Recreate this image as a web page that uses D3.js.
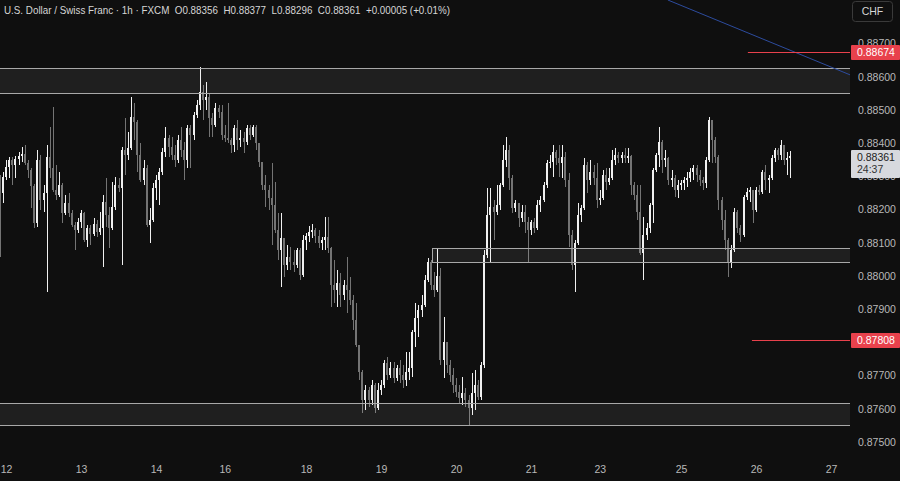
<!DOCTYPE html>
<html>
<head>
<meta charset="utf-8">
<script src="https://cdn.jsdelivr.net/npm/d3@7/dist/d3.min.js"></script>
<style>
html,body{margin:0;padding:0;background:#0f0f0f;overflow:hidden;}
svg{display:block;font-family:"Liberation Sans",Arial,sans-serif;}
</style>
</head>
<body>
<svg id="chart" width="900" height="481"></svg>
<script>
// ---------------- DATA (USD/CHF, 1h, FXCM) ----------------
const symbolTitle = "U.S. Dollar / Swiss Franc · 1h · FXCM";
const quoteCurrency = "CHF";
const countdown = "24:37";

const opens = [
0.88274,0.88250,0.88298,0.88328,0.88349,0.88334,0.88352,0.88361,0.88367,0.88340,
0.88319,0.88271,0.88159,0.88349,0.88229,0.88250,0.88358,0.88325,0.88259,0.88244,
0.88274,0.88189,0.88220,0.88189,0.88153,0.88138,0.88162,0.88189,0.88108,0.88144,
0.88126,0.88156,0.88132,0.88144,0.88223,0.88183,0.88144,0.88208,0.88274,0.88265,
0.88379,0.88364,0.88385,0.88479,0.88464,0.88364,0.88289,0.88325,0.88153,0.88168,
0.88265,0.88289,0.88313,0.88373,0.88415,0.88388,0.88364,0.88349,0.88409,0.88379,
0.88349,0.88445,0.88424,0.88485,0.88515,0.88554,0.88530,0.88539,0.88476,0.88454,
0.88506,0.88494,0.88424,0.88415,0.88409,0.88394,0.88445,0.88409,0.88415,0.88403,
0.88445,0.88424,0.88448,0.88400,0.88343,0.88274,0.88259,0.88235,0.88214,0.88138,
0.88078,0.88114,0.88033,0.88057,0.88042,0.88033,0.88078,0.88003,0.88108,0.88120,
0.88132,0.88138,0.88120,0.88099,0.88108,0.88117,0.88084,0.87973,0.87958,0.87979,
0.87942,0.87973,0.87958,0.87927,0.87867,0.87792,0.87711,0.87626,0.87656,0.87626,
0.87671,0.87602,0.87656,0.87671,0.87738,0.87701,0.87723,0.87692,0.87723,0.87701,
0.87686,0.87711,0.87723,0.87831,0.87873,0.87897,0.87912,0.87988,0.88042,0.87973,
0.87958,0.88000,0.87747,0.87801,0.87732,0.87701,0.87671,0.87650,0.87632,0.87647,
0.87626,0.87602,0.87647,0.87671,0.87635,0.87732,0.88063,0.88183,0.88208,0.88192,
0.88214,0.88274,0.88349,0.88379,0.88295,0.88205,0.88220,0.88174,0.88192,0.88162,
0.88138,0.88162,0.88144,0.88214,0.88229,0.88274,0.88340,0.88343,0.88373,0.88355,
0.88340,0.88358,0.88289,0.88123,0.88033,0.88099,0.88183,0.88205,0.88334,0.88289,
0.88313,0.88295,0.88229,0.88235,0.88304,0.88283,0.88295,0.88349,0.88364,0.88355,
0.88364,0.88355,0.88361,0.88274,0.88244,0.88192,0.88069,0.88123,0.88144,0.88214,
0.88319,0.88364,0.88403,0.88349,0.88355,0.88289,0.88295,0.88259,0.88274,0.88280,
0.88289,0.88295,0.88313,0.88325,0.88304,0.88289,0.88280,0.88349,0.88470,0.88409,
0.88358,0.88229,0.88168,0.88108,0.88042,0.88078,0.88192,0.88144,0.88123,0.88238,
0.88253,0.88259,0.88198,0.88259,0.88253,0.88313,0.88289,0.88295,0.88355,0.88379,
0.88364,0.88394,0.88349,0.88356
];
const highs = [
0.88304,0.88313,0.88349,0.88358,0.88358,0.88361,0.88373,0.88388,0.88394,0.88349,
0.88325,0.88277,0.88379,0.88364,0.88274,0.88394,0.88448,0.88509,0.88334,0.88313,
0.88280,0.88244,0.88250,0.88198,0.88162,0.88174,0.88198,0.88192,0.88153,0.88153,
0.88174,0.88168,0.88192,0.88244,0.88295,0.88208,0.88283,0.88298,0.88295,0.88388,
0.88476,0.88433,0.88539,0.88521,0.88470,0.88400,0.88349,0.88334,0.88205,0.88280,
0.88304,0.88325,0.88385,0.88448,0.88424,0.88418,0.88394,0.88424,0.88448,0.88403,
0.88454,0.88454,0.88494,0.88530,0.88629,0.88575,0.88584,0.88551,0.88491,0.88521,
0.88515,0.88515,0.88454,0.88521,0.88415,0.88454,0.88470,0.88439,0.88433,0.88454,
0.88454,0.88454,0.88454,0.88400,0.88343,0.88304,0.88274,0.88340,0.88283,0.88189,
0.88189,0.88114,0.88093,0.88087,0.88078,0.88084,0.88084,0.88123,0.88129,0.88150,
0.88156,0.88144,0.88138,0.88117,0.88177,0.88177,0.88087,0.88048,0.88018,0.88009,
0.87988,0.88057,0.87997,0.87942,0.87918,0.87792,0.87717,0.87671,0.87665,0.87686,
0.87677,0.87677,0.87686,0.87747,0.87756,0.87741,0.87741,0.87732,0.87747,0.87732,
0.87771,0.87771,0.87837,0.87918,0.87912,0.87942,0.88003,0.88054,0.88048,0.88012,
0.88084,0.88024,0.87876,0.87801,0.87747,0.87723,0.87692,0.87671,0.87695,0.87662,
0.87641,0.87708,0.87717,0.87686,0.87741,0.88078,0.88265,0.88265,0.88229,0.88274,
0.88280,0.88394,0.88418,0.88394,0.88304,0.88229,0.88220,0.88214,0.88214,0.88177,
0.88168,0.88174,0.88229,0.88241,0.88283,0.88349,0.88364,0.88394,0.88379,0.88394,
0.88394,0.88373,0.88310,0.88138,0.88108,0.88220,0.88214,0.88355,0.88343,0.88349,
0.88334,0.88340,0.88259,0.88319,0.88325,0.88325,0.88379,0.88385,0.88373,0.88373,
0.88385,0.88385,0.88364,0.88283,0.88274,0.88274,0.88177,0.88159,0.88220,0.88325,
0.88370,0.88448,0.88409,0.88379,0.88358,0.88319,0.88304,0.88289,0.88289,0.88298,
0.88313,0.88325,0.88334,0.88334,0.88319,0.88298,0.88358,0.88479,0.88470,0.88418,
0.88364,0.88238,0.88198,0.88114,0.88093,0.88205,0.88198,0.88153,0.88244,0.88265,
0.88268,0.88259,0.88268,0.88274,0.88319,0.88334,0.88304,0.88364,0.88385,0.88385,
0.88409,0.88394,0.88373,0.88377
];
const lows = [
0.88057,0.88220,0.88289,0.88295,0.88274,0.88295,0.88334,0.88343,0.88334,0.88295,
0.88205,0.88144,0.88147,0.88198,0.88192,0.87951,0.88295,0.88253,0.88229,0.88238,
0.88159,0.88183,0.88177,0.88147,0.88078,0.88129,0.88144,0.88102,0.88087,0.88093,
0.88120,0.88117,0.88123,0.88027,0.88147,0.88084,0.88138,0.88198,0.88253,0.88033,
0.88304,0.88349,0.88379,0.88409,0.88313,0.88283,0.88274,0.88147,0.88099,0.88162,
0.88229,0.88214,0.88304,0.88358,0.88358,0.88349,0.88328,0.88340,0.88358,0.88289,
0.88325,0.88325,0.88409,0.88476,0.88500,0.88470,0.88500,0.88418,0.88418,0.88448,
0.88476,0.88409,0.88403,0.88400,0.88370,0.88373,0.88379,0.88388,0.88370,0.88394,
0.88409,0.88418,0.88379,0.88328,0.88259,0.88208,0.88198,0.88093,0.88129,0.88048,
0.87967,0.87997,0.88018,0.88018,0.88012,0.88024,0.87988,0.87997,0.88078,0.88102,
0.88114,0.88099,0.88084,0.88078,0.88078,0.88069,0.87906,0.87918,0.87906,0.87906,
0.87927,0.87888,0.87912,0.87837,0.87786,0.87686,0.87587,0.87596,0.87605,0.87611,
0.87587,0.87596,0.87641,0.87662,0.87686,0.87692,0.87677,0.87683,0.87677,0.87662,
0.87668,0.87686,0.87695,0.87786,0.87816,0.87876,0.87906,0.87982,0.87958,0.87936,
0.87951,0.87732,0.87692,0.87708,0.87680,0.87647,0.87635,0.87617,0.87611,0.87605,
0.87551,0.87581,0.87596,0.87626,0.87626,0.87723,0.88054,0.88042,0.88108,0.88183,
0.88198,0.88268,0.88328,0.88259,0.88189,0.88192,0.88147,0.88162,0.88129,0.88042,
0.88123,0.88129,0.88138,0.88192,0.88223,0.88265,0.88325,0.88298,0.88334,0.88298,
0.88295,0.88268,0.88087,0.88018,0.87951,0.88093,0.88162,0.88198,0.88250,0.88274,
0.88274,0.88205,0.88214,0.88229,0.88259,0.88274,0.88289,0.88334,0.88340,0.88340,
0.88340,0.88340,0.88244,0.88229,0.88168,0.88063,0.87988,0.88108,0.88129,0.88159,
0.88313,0.88328,0.88310,0.88328,0.88274,0.88268,0.88238,0.88235,0.88259,0.88259,
0.88268,0.88283,0.88289,0.88283,0.88271,0.88259,0.88265,0.88343,0.88340,0.88340,
0.88198,0.88138,0.88078,0.87997,0.88024,0.88072,0.88129,0.88102,0.88117,0.88229,
0.88223,0.88159,0.88192,0.88244,0.88247,0.88259,0.88250,0.88289,0.88343,0.88349,
0.88349,0.88334,0.88304,0.88296
];
const closes = [
0.88250,0.88298,0.88328,0.88349,0.88334,0.88352,0.88361,0.88367,0.88340,0.88319,
0.88271,0.88159,0.88349,0.88229,0.88250,0.88358,0.88325,0.88259,0.88244,0.88274,
0.88189,0.88220,0.88189,0.88153,0.88138,0.88162,0.88189,0.88108,0.88144,0.88126,
0.88156,0.88132,0.88144,0.88223,0.88183,0.88144,0.88208,0.88274,0.88265,0.88379,
0.88364,0.88385,0.88479,0.88464,0.88364,0.88289,0.88325,0.88153,0.88168,0.88265,
0.88289,0.88313,0.88373,0.88415,0.88388,0.88364,0.88349,0.88409,0.88379,0.88349,
0.88445,0.88424,0.88485,0.88515,0.88554,0.88530,0.88539,0.88476,0.88454,0.88506,
0.88494,0.88424,0.88415,0.88409,0.88394,0.88445,0.88409,0.88415,0.88403,0.88445,
0.88424,0.88448,0.88400,0.88343,0.88274,0.88259,0.88235,0.88214,0.88138,0.88078,
0.88114,0.88033,0.88057,0.88042,0.88033,0.88078,0.88003,0.88108,0.88120,0.88132,
0.88138,0.88120,0.88099,0.88108,0.88117,0.88084,0.87973,0.87958,0.87979,0.87942,
0.87973,0.87958,0.87927,0.87867,0.87792,0.87711,0.87626,0.87656,0.87626,0.87671,
0.87602,0.87656,0.87671,0.87738,0.87701,0.87723,0.87692,0.87723,0.87701,0.87686,
0.87711,0.87723,0.87831,0.87873,0.87897,0.87912,0.87988,0.88042,0.87973,0.87958,
0.88000,0.87747,0.87801,0.87732,0.87701,0.87671,0.87650,0.87632,0.87647,0.87626,
0.87602,0.87647,0.87671,0.87635,0.87732,0.88063,0.88183,0.88208,0.88192,0.88214,
0.88274,0.88349,0.88379,0.88295,0.88205,0.88220,0.88174,0.88192,0.88162,0.88138,
0.88162,0.88144,0.88214,0.88229,0.88274,0.88340,0.88343,0.88373,0.88355,0.88340,
0.88358,0.88289,0.88123,0.88033,0.88099,0.88183,0.88205,0.88334,0.88289,0.88313,
0.88295,0.88229,0.88235,0.88304,0.88283,0.88295,0.88349,0.88364,0.88355,0.88364,
0.88355,0.88361,0.88274,0.88244,0.88192,0.88069,0.88123,0.88144,0.88214,0.88319,
0.88364,0.88403,0.88349,0.88355,0.88289,0.88295,0.88259,0.88274,0.88280,0.88289,
0.88295,0.88313,0.88325,0.88304,0.88289,0.88280,0.88349,0.88470,0.88409,0.88358,
0.88229,0.88168,0.88108,0.88042,0.88078,0.88192,0.88144,0.88123,0.88238,0.88253,
0.88259,0.88198,0.88259,0.88253,0.88313,0.88289,0.88295,0.88355,0.88379,0.88364,
0.88394,0.88349,0.88356,0.88361
];

// time axis: candle index at which each day label sits
const dayTickIndex = [2, 26, 50, 72, 98, 122, 146, 170, 192, 218, 242, 266];
const dayTickLabel = ["12","13","14","16","18","19","20","21","23","25","26","27"];

// price axis ticks (0.87800 is hidden behind the alert label in the original)
const priceTicks = [0.887,0.886,0.885,0.884,0.883,0.882,0.881,0.880,0.879,0.877,0.876,0.875];

// drawn support / resistance zones (price bounds, start candle index)
const zoneHigh  = [0.88626, 0.88084, 0.87617];
const zoneLow   = [0.88551, 0.88042, 0.87551];
const zoneStart = [-10, 138.3, -10];

// horizontal alert levels (price, start candle index)
const alertPrice = [0.88674, 0.87808];
const alertStart = [239.4, 240.7];

// trend line (two anchor points: candle index, price)
const trendIndex = [213.8, 280];
const trendPrice = [0.88831, 0.88575];

// ---------------- CHART ----------------
const W = 900, H = 481, plotRight = 850, plotBottom = 455;
const upColor = "#f0f0f0", downColor = "#747474";
const axisText = "#b9b9b9";

const x = d3.scaleLinear().domain([0.08, 272.08]).range([0, plotRight]);
const y = d3.scaleLinear().domain([0.875, 0.887]).range([441.9, 43.5]);

const svg = d3.select("#chart");
svg.append("rect").attr("width", W).attr("height", H).attr("fill", "#0f0f0f");

svg.append("defs").append("clipPath").attr("id", "plot")
  .append("rect").attr("x", 0).attr("y", 0).attr("width", plotRight).attr("height", plotBottom);

const plot = svg.append("g").attr("clip-path", "url(#plot)");

// candles
const candles = closes.map((c, i) => ({ i, o: opens[i], h: highs[i], l: lows[i], c, up: c >= opens[i] }));
const cg = plot.append("g").attr("shape-rendering", "crispEdges");
cg.selectAll("rect.wick").data(candles).join("rect")
  .attr("class", "wick")
  .attr("x", d => Math.round(x(d.i)))
  .attr("y", d => Math.round(y(d.h)))
  .attr("width", 1)
  .attr("height", d => Math.max(1, Math.round(y(d.l)) - Math.round(y(d.h))))
  .attr("fill", d => d.up ? upColor : downColor);
cg.selectAll("rect.body").data(candles).join("rect")
  .attr("class", "body")
  .attr("x", d => Math.round(x(d.i)) - 1)
  .attr("y", d => Math.round(y(Math.max(d.o, d.c))))
  .attr("width", 2)
  .attr("height", d => Math.max(1, Math.round(y(Math.min(d.o, d.c))) - Math.round(y(Math.max(d.o, d.c)))))
  .attr("fill", d => d.up ? upColor : downColor);

// zones
const zones = zoneHigh.map((h, i) => ({ h, l: zoneLow[i], s: zoneStart[i] }));
plot.selectAll("rect.zone").data(zones).join("rect")
  .attr("class", "zone")
  .attr("x", d => Math.round(x(d.s)) + 0.5)
  .attr("y", d => Math.round(y(d.h)) + 0.5)
  .attr("width", d => plotRight + 20 - Math.round(x(d.s)))
  .attr("height", d => Math.round(y(d.l)) - Math.round(y(d.h)))
  .attr("fill", "rgba(255,255,255,0.07)")
  .attr("stroke", "#a8a8a8")
  .attr("stroke-width", 1);

// trend line
plot.append("line")
  .attr("x1", x(trendIndex[0])).attr("y1", y(trendPrice[0]))
  .attr("x2", x(trendIndex[1])).attr("y2", y(trendPrice[1]))
  .attr("stroke", "#2d4c9e").attr("stroke-width", 1);

// alert lines
const alerts = alertPrice.map((p, i) => ({ p, s: alertStart[i] }));
plot.selectAll("line.alert").data(alerts).join("line")
  .attr("class", "alert")
  .attr("x1", d => x(d.s)).attr("x2", plotRight)
  .attr("y1", d => Math.round(y(d.p)) + 0.5).attr("y2", d => Math.round(y(d.p)) + 0.5)
  .attr("stroke", "#e8414c").attr("stroke-width", 1);

// header
const fmt = d3.format(".5f");
const last = candles[candles.length - 1];
const prevClose = closes[closes.length - 2];
const chg = last.c - prevClose;
const chgPct = chg / prevClose * 100;
const header = `${symbolTitle}  O${fmt(last.o)}  H${fmt(last.h)}  L${fmt(last.l)}  C${fmt(last.c)}  ${chg >= 0 ? "+" : ""}${fmt(chg)} (${chg >= 0 ? "+" : ""}${chgPct.toFixed(2)}%)`;
svg.append("text")
  .attr("x", 4).attr("y", 14)
  .attr("fill", "#d6d6d6")
  .attr("font-size", 11)
  .attr("textLength", 446)
  .attr("lengthAdjust", "spacingAndGlyphs")
  .style("white-space", "pre")
  .text(header);

// y axis
const yAxis = d3.axisRight(y).tickValues(priceTicks).tickFormat(fmt).tickSize(0).tickPadding(8);
svg.append("g").attr("transform", `translate(${plotRight},0)`).call(yAxis)
  .call(g => g.select(".domain").remove())
  .call(g => g.selectAll("text").attr("fill", axisText).attr("font-size", 10.5)
    .attr("font-family", '"Liberation Sans", Arial, sans-serif'));

// x axis
const xAxis = d3.axisBottom(x).tickValues(dayTickIndex).tickFormat((d, i) => dayTickLabel[i]).tickSize(0).tickPadding(3);
svg.append("g").attr("transform", `translate(0,463)`).call(xAxis)
  .call(g => g.select(".domain").remove())
  .call(g => g.selectAll("text").attr("fill", axisText).attr("font-size", 10.5)
    .attr("font-family", '"Liberation Sans", Arial, sans-serif'));

// alert price labels
const labelG = svg.append("g");
alerts.forEach(d => {
  const cy = y(d.p);
  labelG.append("rect").attr("x", 851).attr("y", Math.round(cy) - 7).attr("width", 49).attr("height", 15)
    .attr("rx", 1).attr("fill", "#e8414c");
  labelG.append("text").attr("x", 857).attr("y", cy + 4).attr("fill", "#ffffff")
    .attr("font-size", 10.5).text(fmt(d.p));
});

// current price label with countdown
const cy = y(last.c);
labelG.append("rect").attr("x", 851).attr("y", Math.round(cy) - 6).attr("width", 49).attr("height", 28)
  .attr("rx", 1).attr("fill", "#d7d9de");
labelG.append("text").attr("x", 857).attr("y", cy + 4.5).attr("fill", "#222").attr("font-size", 10.5).text(fmt(last.c));
labelG.append("text").attr("x", 857).attr("y", cy + 17).attr("fill", "#333").attr("font-size", 10.5).text(countdown);

// currency button
svg.append("rect").attr("x", 852.5).attr("y", 1.5).attr("width", 40).attr("height", 20).attr("rx", 3)
  .attr("fill", "none").attr("stroke", "#3a3a3a");
svg.append("text").attr("x", 872.5).attr("y", 15).attr("text-anchor", "middle")
  .attr("fill", "#d6d6d6").attr("font-size", 10.5).text(quoteCurrency);
</script>
</body>
</html>
